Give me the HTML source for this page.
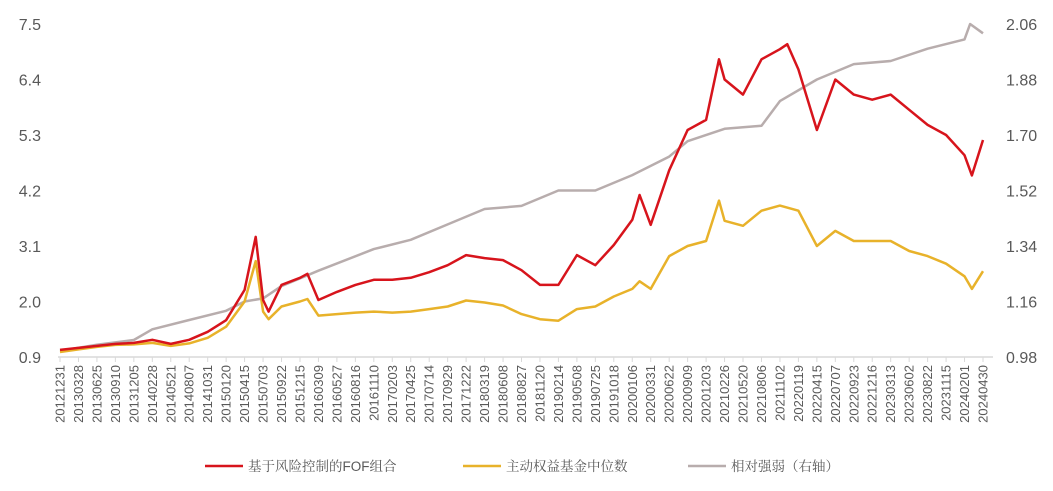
<!DOCTYPE html>
<html><head><meta charset="utf-8"><style>
body{margin:0;background:#fff;width:1053px;height:486px;overflow:hidden}
svg text{font-family:"Liberation Sans",sans-serif;fill:#595959}
</style></head><body>
<svg id="c" width="1053" height="486"></svg>
<script>
const labels=["20121231","20130328","20130625","20130910","20131205","20140228","20140521","20140807","20141031","20150120","20150415","20150703","20150922","20151215","20160309","20160527","20160816","20161110","20170203","20170425","20170714","20170929","20171222","20180319","20180608","20180827","20181120","20190214","20190508","20190725","20191018","20200106","20200331","20200622","20200909","20201203","20210226","20210520","20210806","20211102","20220119","20220415","20220707","20220923","20221216","20230313","20230602","20230822","20231115","20240201","20240430"];
const leftTicks=[0.9,2.0,3.1,4.2,5.3,6.4,7.5];
const rightTicks=["0.98","1.16","1.34","1.52","1.70","1.88","2.06"];
const fofX=[0,1,2,3,4,5,6,7,8,9,10,10.6,11,11.3,12,13,13.4,14,15,16,17,18,19,20,21,22,23,24,25,26,27,28,29,30,31,31.4,32,33,34,35,35.7,36,37,38,39,39.4,40,41,42,43,44,45,46,47,48,49,49.4,50];
const fofY=[1.04,1.08,1.12,1.16,1.18,1.24,1.16,1.24,1.4,1.63,2.23,3.28,2.03,1.8,2.33,2.47,2.55,2.03,2.19,2.33,2.43,2.43,2.47,2.58,2.72,2.92,2.86,2.82,2.62,2.33,2.33,2.92,2.72,3.12,3.62,4.11,3.52,4.6,5.4,5.6,6.8,6.4,6.1,6.8,7.0,7.1,6.6,5.4,6.4,6.1,6.0,6.1,5.8,5.5,5.3,4.9,4.5,5.2];
const eqX=[0,1,2,3,4,5,6,7,8,9,10,10.6,11,11.3,12,13,13.4,14,15,16,17,18,19,20,21,22,23,24,25,26,27,28,29,30,31,31.4,32,33,34,35,35.7,36,37,38,39,40,41,42,43,44,45,46,47,48,49,49.4,50];
const eqY=[1.0,1.05,1.1,1.14,1.15,1.18,1.12,1.17,1.28,1.5,2.0,2.8,1.8,1.65,1.9,2.0,2.05,1.72,1.75,1.78,1.8,1.78,1.8,1.85,1.9,2.02,1.98,1.92,1.75,1.65,1.62,1.85,1.9,2.1,2.25,2.4,2.25,2.9,3.1,3.2,4.0,3.6,3.5,3.8,3.9,3.8,3.1,3.4,3.2,3.2,3.2,3.0,2.9,2.75,2.5,2.25,2.6];
const relX=[0,2,4,5,7,9,10,11,12,14,17,19,21,23,25,27,29,31,33,34,36,38,39,41,43,45,47,49,49.3,50];
const relY=[1.0,1.02,1.035,1.07,1.10,1.13,1.16,1.17,1.21,1.26,1.33,1.36,1.41,1.46,1.47,1.52,1.52,1.57,1.63,1.68,1.72,1.73,1.81,1.88,1.93,1.94,1.98,2.01,2.06,2.03];
const svg=document.getElementById('c');const NS='http://www.w3.org/2000/svg';
const X0=60,X1=983,Y0=357,Y1=24;
const xs=i=>X0+(X1-X0)*i/(labels.length-1);
const yl=v=>Y0-(v-0.9)/(7.5-0.9)*(Y0-Y1);
const yr=v=>Y0-(v-0.98)/(2.06-0.98)*(Y0-Y1);
function el(t,a,txt){const e=document.createElementNS(NS,t);for(const k in a)e.setAttribute(k,a[k]);if(txt!=null)e.textContent=txt;svg.appendChild(e);return e;}
const ax=el('line',{x1:X0-2,x2:993,y1:Y0,y2:Y0,stroke:'#d9d9d9','stroke-width':1.5});


leftTicks.forEach((v,i)=>{const t=el('text',{x:41,y:yl(v)+6,'text-anchor':'end','font-size':16},v.toFixed(1));


const r=el('text',{x:1006,y:yl(v)+6,'font-size':16},rightTicks[i]);

});
labels.forEach((l,i)=>{const x=xs(i);el('line',{x1:x,x2:x,y1:Y0,y2:Y0+5,stroke:'#d9d9d9'});
const t=el('text',{x:0,y:0,'font-size':13,'text-anchor':'end',transform:`translate(${x+4.5},${Y0+8}) rotate(-90)`},l);

});
function line(X,Y,f,col,name){const d=X.map((x,i)=>(i?'L':'M')+xs(x).toFixed(1)+','+f(Y[i]).toFixed(1)).join('');
const p=el('path',{d:d,fill:'none',stroke:col,'stroke-width':2.5,'stroke-linejoin':'round'});

}
line(relX,relY,yr,'#b8adad','series-relative-strength');
line(eqX,eqY,yl,'#e8b22a','series-equity-fund-median');
line(fofX,fofY,yl,'#d7141c','series-fof');
const leg=[[205,'#d7141c','基于风险控制的FOF组合'],[463,'#e8b22a','主动权益基金中位数'],[688,'#b8adad','相对强弱（右轴）']];
leg.forEach(([x,c,t])=>{const l=el('line',{x1:x,x2:x+38,y1:466,y2:466,stroke:c,'stroke-width':2.5});


const tx=el('text',{x:x+43,y:471,'font-size':13.5,style:'font-family:"Liberation Sans","Noto Serif CJK SC",serif'},t);

});
</script>
</body></html>
